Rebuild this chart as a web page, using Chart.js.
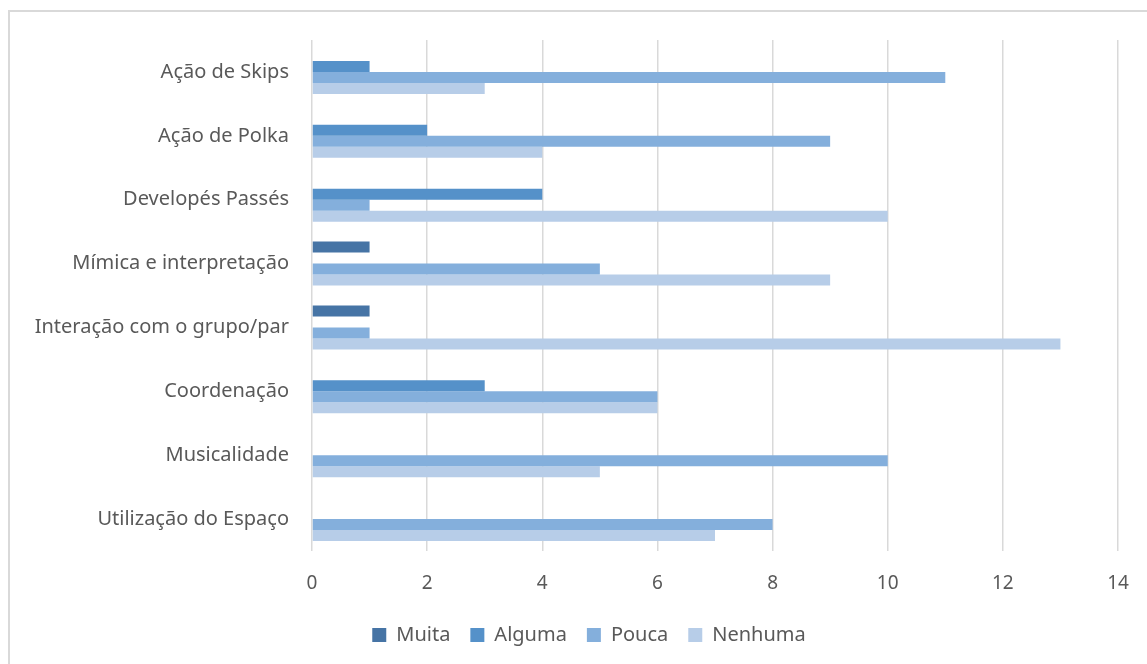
<!DOCTYPE html>
<html>
<head>
<meta charset="utf-8">
<script src="https://cdn.jsdelivr.net/npm/chart.js@4/dist/chart.umd.min.js"></script>
<style>
  html, body { margin: 0; padding: 0; background: #fff; }
  #wrap { position: relative; width: 1147px; height: 664px; overflow: hidden; }
  #frame { position: absolute; left: 8px; top: 10px; width: 1200px; height: 700px; border: 2px solid #d9d9d9; box-sizing: border-box; }
  canvas { position: absolute; left: 0; top: 0; }
</style>
</head>
<body>
<div id="wrap">
  <div id="frame"></div>
  <canvas id="c" width="1147" height="664"></canvas>
</div>
<script>
const categories = ["Ação de Skips", "Ação de Polka", "Developés Passés", "Mímica e interpretação", "Interação com o grupo/par", "Coordenação", "Musicalidade", "Utilização do Espaço"];
const muita   = [0, 0, 0, 1, 1, 0, 0, 0];
const alguma  = [1, 2, 4, 0, 0, 3, 0, 0];
const pouca   = [11, 9, 1, 5, 1, 6, 10, 8];
const nenhuma = [3, 4, 10, 9, 13, 6, 5, 7];
const seriesNames = ["Muita", "Alguma", "Pouca", "Nenhuma"];
const xTicks = [0, 2, 4, 6, 8, 10, 12, 14];

const colors = ["#4674a5", "#5591c9", "#84afdc", "#b7cde8"];
const font = "'Noto Sans', 'Open Sans', sans-serif";

const shiftLegend = {
  id: 'shiftLegend',
  afterLayout(chart) {
    if (chart.legend) {
      const dx = 589 - (chart.legend.left + chart.legend.right) / 2;
      chart.legend.left += dx; chart.legend.right += dx;
    }
  }
};

new Chart(document.getElementById('c'), {
  type: 'bar',
  plugins: [shiftLegend],
  data: {
    labels: categories,
    datasets: [muita, alguma, pouca, nenhuma].map((d, i) => ({
      label: seriesNames[i],
      data: d,
      backgroundColor: colors[i],
      borderWidth: 0,
      barPercentage: 1.0,
      categoryPercentage: 0.69
    }))
  },
  options: {
    indexAxis: 'y',
    responsive: false,
    animation: false,
    devicePixelRatio: 1,
    layout: { padding: { left: 10, right: 29, top: 40, bottom: 9 } },
    scales: {
      x: {
        min: 0, max: 14,
        afterBuildTicks: (s) => { s.ticks = xTicks.map(v => ({ value: v })); },
        afterFit: (s) => { s.height = 54; s.paddingRight = 10; s.paddingLeft = 10; },
        grid: { color: '#d9d9d9', lineWidth: 1.5, drawTicks: false },
        border: { display: false },
        ticks: { color: '#595959', font: { family: font, size: 19 }, padding: 21 }
      },
      y: {
        afterFit: (s) => { s.width = 302; },
        grid: { display: false, drawTicks: false },
        border: { display: false },
        ticks: { color: '#595959', font: { family: font, size: 20 }, padding: 23 }
      }
    },
    plugins: {
      legend: {
        position: 'bottom',
        labels: { color: '#595959', font: { family: font, size: 20 }, boxWidth: 14, boxHeight: 14, padding: 20 }
      },
      tooltip: { enabled: false }
    }
  }
});
</script>
</body>
</html>
